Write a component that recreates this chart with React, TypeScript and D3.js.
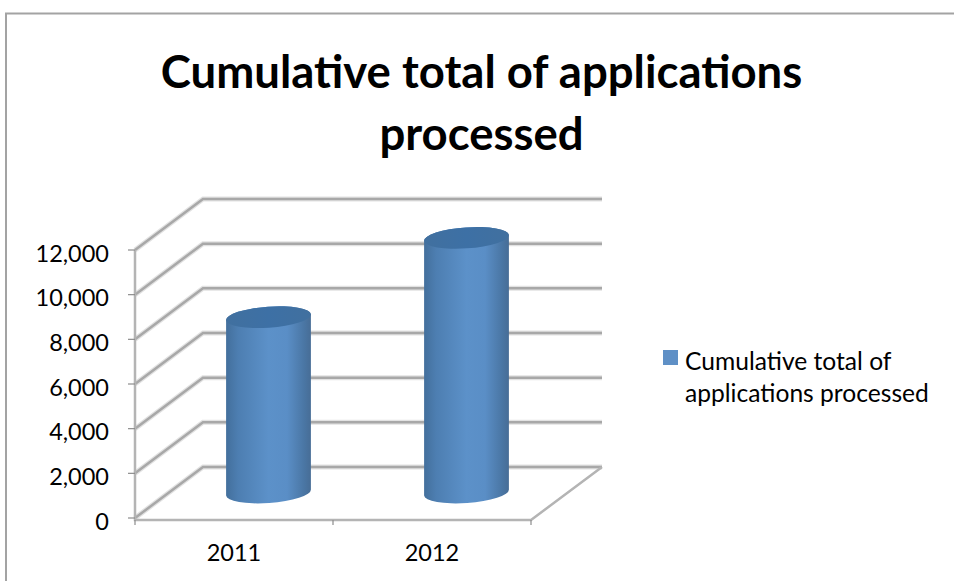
import * as d3 from "d3";

const categories = ["2011", "2012"];
const cumulativeTotals = [7850, 11400];
const yTickValues = [0, 2000, 4000, 6000, 8000, 10000, 12000];
const titleLines = ["Cumulative total of applications", "processed"];
const legendLines = ["Cumulative total of", "applications processed"];

const FONT = "Lato, Carlito, Calibri, sans-serif";
const WIDTH = 954;
const HEIGHT = 581;

// Front plane of the 3D plot box and the offset to its back wall.
const frontLeft = 135;
const frontRight = 531;
const frontBottom = 518;
const frontTop = 250;
const depthX = 68;
const depthY = -51;
const backRight = 602;

const y = d3.scaleLinear().domain([0, 12000]).range([frontBottom, frontTop]);
const x = d3.scaleBand<string>().domain(categories).range([frontLeft, frontRight]);
const fmt = d3.format(",");

const rx = 42.5;
const ry = 10.5;
const tilt = -4;

function cylinderBody(cx: number, topY: number, baseY: number) {
  const t = (tilt * Math.PI) / 180;
  const dx = rx * Math.cos(t);
  const dy = rx * Math.sin(t);
  return [
    `M${cx - dx},${topY - dy}`,
    `L${cx - dx},${baseY - dy}`,
    `A${rx},${ry} ${tilt} 0 0 ${cx + dx},${baseY + dy}`,
    `L${cx + dx},${topY + dy}`,
    `A${rx},${ry} ${tilt} 0 0 ${cx - dx},${topY - dy}`,
    "Z",
  ].join(" ");
}

export default function App() {
  const midDepthX = depthX / 2 + 0.5;
  const midDepthY = depthY / 2;
  const band = x.bandwidth();
  const gridLine = d3.line();

  return (
    <svg
      width={WIDTH}
      height={HEIGHT}
      viewBox={`0 0 ${WIDTH} ${HEIGHT}`}
      style={{ position: "absolute", left: 0, top: 0, background: "#fff" }}
    >
      <defs>
        <linearGradient id="cylinderShade" x1="0" x2="1" y1="0" y2="0">
          <stop offset="0" stopColor="#436f9c" />
          <stop offset="0.14" stopColor="#4d7eb1" />
          <stop offset="0.5" stopColor="#5c91c9" />
          <stop offset="0.72" stopColor="#5a8ec6" />
          <stop offset="0.92" stopColor="#4a76a4" />
          <stop offset="1" stopColor="#476d96" />
        </linearGradient>
        <linearGradient id="capShade" x1="0" x2="1" y1="0" y2="0">
          <stop offset="0" stopColor="#41709f" />
          <stop offset="0.5" stopColor="#3d70a5" />
          <stop offset="1" stopColor="#41709f" />
        </linearGradient>
      </defs>

      {/* Chart frame */}
      <path d={`M6,${HEIGHT}V13.5H${WIDTH}`} fill="none" stroke="#a3a3a3" strokeWidth={2} />

      {/* Title */}
      <text textAnchor="middle" fontFamily={FONT} fontWeight={700} fontSize={45.5} fill="#000">
        {titleLines.map((line, i) => (
          <tspan key={line} x={481.5} y={88 + i * 62}>
            {line}
          </tspan>
        ))}
      </text>

      {/* Side wall and back wall gridlines */}
      {yTickValues.map((v) => {
        const py = y(v);
        const pts: [number, number][] = [
          [frontLeft, py],
          [frontLeft + depthX, py + depthY],
          [backRight, py + depthY],
        ];
        return (
          <g key={v}>
            <path d={gridLine(pts) ?? ""} fill="none" stroke="#e2e2e2" strokeWidth={5} />
            <path d={gridLine(pts) ?? ""} fill="none" stroke="#a8a8a8" strokeWidth={2.5} />
          </g>
        );
      })}

      {/* Front axes */}
      <path
        d={`M${frontLeft},${frontTop}V${frontBottom + 2}H${frontRight}L${backRight},${frontBottom + depthY}`}
        fill="none"
        stroke="#b4b4b4"
        strokeWidth={2.5}
      />
      {yTickValues.map((v) => (
        <line key={v} x1={frontLeft - 7} x2={frontLeft} y1={y(v)} y2={y(v)} stroke="#8c8c8c" strokeWidth={1.2} />
      ))}
      {[...categories.map((c) => x(c) as number), frontRight].map((px) => (
        <line key={px} x1={px} x2={px} y1={frontBottom + 2} y2={frontBottom + 7} stroke="#8c8c8c" strokeWidth={1.2} />
      ))}

      {/* Cylinders */}
      {categories.map((c, i) => {
        const cx = (x(c) as number) + band / 2 + midDepthX;
        const topY = y(cumulativeTotals[i]) + midDepthY;
        const baseY = y(0) + midDepthY;
        return (
          <g key={c}>
            <path d={cylinderBody(cx, topY, baseY)} fill="url(#cylinderShade)" />
            <ellipse
              cx={cx}
              cy={topY}
              rx={rx}
              ry={ry}
              transform={`rotate(${tilt} ${cx} ${topY})`}
              fill="url(#capShade)"
            />
          </g>
        );
      })}

      {/* Value axis labels */}
      {yTickValues.map((v) => (
        <text key={v} x={109} y={y(v) + 11.5} textAnchor="end" fontFamily={FONT} fontSize={23.5} fill="#000">
          {fmt(v)}
        </text>
      ))}

      {/* Category labels */}
      {categories.map((c) => (
        <text
          key={c}
          x={(x(c) as number) + band / 2}
          y={561}
          textAnchor="middle"
          fontFamily={FONT}
          fontSize={23.5}
          fill="#000"
        >
          {c}
        </text>
      ))}

      {/* Legend */}
      <rect x={663} y={350} width={15} height={15} fill="#5f90c6" />
      {legendLines.map((line, i) => (
        <text key={line} x={685} y={370 + i * 32} fontFamily={FONT} fontSize={24.6} fill="#000">
          {line}
        </text>
      ))}
    </svg>
  );
}
